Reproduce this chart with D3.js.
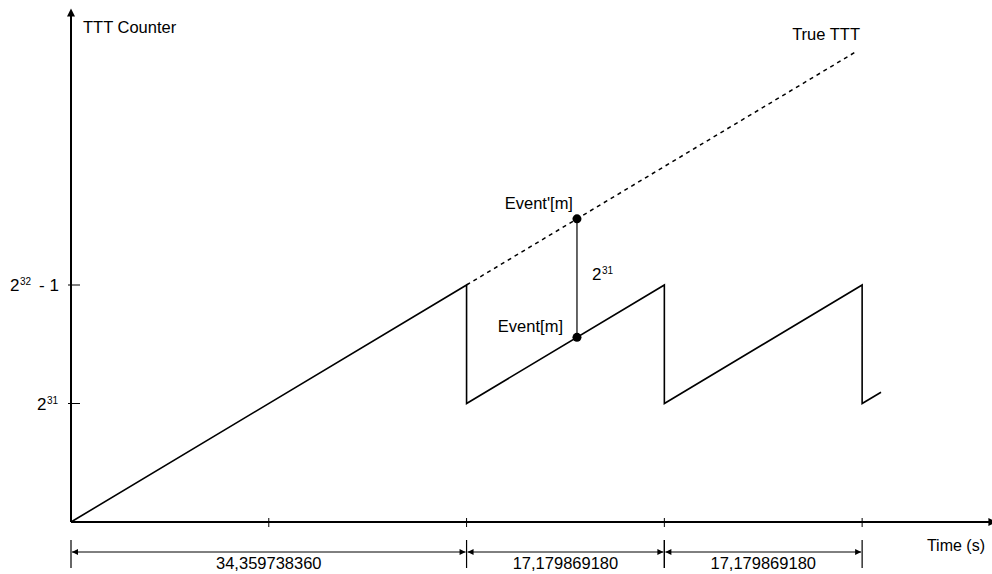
<!DOCTYPE html>
<html>
<head>
<meta charset="utf-8">
<script src="https://cdn.jsdelivr.net/npm/d3@7"></script>
<style>
  html, body { margin: 0; padding: 0; background: #fff; }
  svg { display: block; font-family: "Liberation Sans", Arial, sans-serif; }
  text { fill: #000; }
</style>
</head>
<body>
<svg id="chart" width="992" height="574"></svg>
<script>
// Timetag counter (125 MHz, 32-bit) wrapping over time, vs. the true unwrapped value.
const counterTimes  = [0, 34.35973836, 34.35973836, 51.53960754, 51.53960754, 68.71947672, 68.71947672, 70.36];
const counterValues = [0, 4294967295, 2147483648, 4294967295, 2147483648, 4294967295, 2147483648, 2352000000];

const trueTimes  = [34.35973836, 68.2];
const trueValues = [4294967295, 8525000000];

// The event seen on the wrapped counter and its true value, 2^31 apart
const eventTime = 43.95;
const eventCounterValue = 3346000000;
const eventTrueValue    = 5493500000;

const xTickValues = [17.17986918, 34.35973836, 51.53960754, 68.71947672];
const yTickValues = [2147483648, 4294967295];
// [base, exponent, suffix, left edge of the label]
const yTickLabels = [["2", "31", "", 37], ["2", "32", "- 1", 10]];

const spanStarts = [0, 34.35973836, 51.53960754];
const spanLengths = [34.35973836, 17.17986918, 17.17986918];
const spanLabels = ["34,359738360", "17,179869180", "17,179869180"];

const FS = 16.5;
const SUP = 10;

const svg = d3.select("#chart");
const x = d3.scaleLinear().domain([0, 80]).range([71, 992]);
const y = d3.scaleLinear().domain([0, 4294967296]).range([522, 285]);

const defs = svg.append("defs");
defs.append("marker").attr("id", "dimArrow")
  .attr("viewBox", "0 0 10 10").attr("refX", 10).attr("refY", 5)
  .attr("markerWidth", 8).attr("markerHeight", 6).attr("markerUnits", "userSpaceOnUse")
  .attr("orient", "auto-start-reverse")
  .append("path").attr("d", "M0,0 L10,5 L0,10 Z").attr("fill", "#000");
defs.append("marker").attr("id", "axisArrow")
  .attr("viewBox", "0 0 10 10").attr("refX", 2).attr("refY", 5)
  .attr("markerWidth", 9).attr("markerHeight", 8).attr("markerUnits", "userSpaceOnUse")
  .attr("orient", "auto")
  .append("path").attr("d", "M0,0 L10,5 L0,10 Z").attr("fill", "#000");

// Axes
svg.append("line")
  .attr("x1", x(0)).attr("y1", y(0)).attr("x2", x(0)).attr("y2", 15)
  .attr("stroke", "#000").attr("stroke-width", 2).attr("marker-end", "url(#axisArrow)");
svg.append("line")
  .attr("x1", x(0)).attr("y1", y(0)).attr("x2", 990).attr("y2", y(0))
  .attr("stroke", "#000").attr("stroke-width", 2).attr("marker-end", "url(#axisArrow)");

// Ticks
svg.selectAll(".xtick").data(xTickValues).join("line")
  .attr("x1", d => x(d)).attr("x2", d => x(d))
  .attr("y1", y(0) - 4).attr("y2", y(0) + 5)
  .attr("stroke", "#000").attr("stroke-width", 1);
svg.selectAll(".ytick").data(yTickValues).join("line")
  .attr("x1", x(0) - 3).attr("x2", x(0) + 9)
  .attr("y1", d => y(d)).attr("y2", d => y(d))
  .attr("stroke", "#000").attr("stroke-width", 1);

yTickValues.forEach((v, i) => {
  const [base, sup, rest, left] = yTickLabels[i];
  const g = svg.append("g").attr("transform", `translate(${left},${y(v) + 6})`);
  g.append("text").attr("font-size", FS + 0.5).text(base);
  g.append("text").attr("x", 10).attr("y", -6).attr("font-size", SUP).text(sup);
  if (rest) g.append("text").attr("x", 29).attr("font-size", FS + 0.5).text(rest);
});

// Axis titles
svg.append("text").attr("x", 83).attr("y", 33).attr("font-size", FS).text("TTT Counter");
svg.append("text").attr("x", 985).attr("y", 551).attr("text-anchor", "end").attr("font-size", 16).text("Time (s)");

// True (unwrapped) TTT, dashed
const line = d3.line().x(d => x(d[0])).y(d => y(d[1]));
svg.append("path")
  .attr("d", line(d3.zip(trueTimes, trueValues)))
  .attr("fill", "none").attr("stroke", "#000").attr("stroke-width", 1.5)
  .attr("stroke-dasharray", "4,4");
svg.append("text").attr("x", 860).attr("y", 40).attr("text-anchor", "end")
  .attr("font-size", FS).text("True TTT");

// Wrapped counter sawtooth
svg.append("path")
  .attr("d", line(d3.zip(counterTimes, counterValues)))
  .attr("fill", "none").attr("stroke", "#000").attr("stroke-width", 1.6)
  .attr("stroke-linejoin", "miter");

// Event markers and the 2^31 offset between them
svg.append("line")
  .attr("x1", x(eventTime)).attr("x2", x(eventTime))
  .attr("y1", y(eventTrueValue)).attr("y2", y(eventCounterValue))
  .attr("stroke", "#000").attr("stroke-width", 1.2);
svg.selectAll(".evt").data([eventTrueValue, eventCounterValue]).join("circle")
  .attr("cx", x(eventTime)).attr("cy", d => y(d)).attr("r", 4.5).attr("fill", "#000");
svg.append("text").attr("x", x(eventTime) - 4).attr("y", y(eventTrueValue) - 10)
  .attr("text-anchor", "end").attr("font-size", FS).text("Event'[m]");
svg.append("text").attr("x", x(eventTime) - 14).attr("y", y(eventCounterValue) - 5)
  .attr("text-anchor", "end").attr("font-size", FS).text("Event[m]");
const offY = (y(eventTrueValue) + y(eventCounterValue)) / 2 + 2;
svg.append("text").attr("x", x(eventTime) + 15).attr("y", offY).attr("font-size", FS + 0.5).text("2");
svg.append("text").attr("x", x(eventTime) + 25).attr("y", offY - 6).attr("font-size", SUP).text("31");

// Dimension lines under the time axis
const dimY = 552;
const ext = [...new Set(spanStarts.concat(spanStarts.map((s, i) => s + spanLengths[i])))];
svg.selectAll(".ext").data(ext).join("line")
  .attr("x1", d => x(d)).attr("x2", d => x(d))
  .attr("y1", 540).attr("y2", 568)
  .attr("stroke", "#000").attr("stroke-width", 1.2);
spanStarts.forEach((s, i) => {
  const e = s + spanLengths[i];
  svg.append("line")
    .attr("x1", x(s) + 1).attr("x2", x(e) - 1)
    .attr("y1", dimY).attr("y2", dimY)
    .attr("stroke", "#000").attr("stroke-width", 1)
    .attr("marker-start", "url(#dimArrow)").attr("marker-end", "url(#dimArrow)");
  svg.append("text").attr("x", (x(s) + x(e)) / 2).attr("y", 569)
    .attr("text-anchor", "middle").attr("font-size", FS).text(spanLabels[i]);
});
</script>
</body>
</html>
